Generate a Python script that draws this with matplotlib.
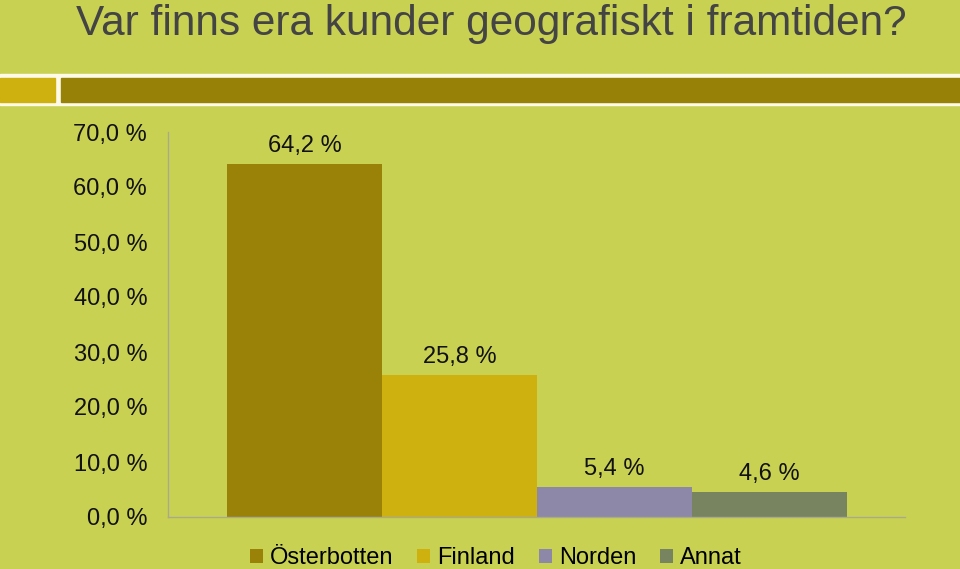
import matplotlib.pyplot as plt
from matplotlib.patches import Rectangle

plt.rcParams['font.family'] = ['Liberation Sans', 'DejaVu Sans']

# Data
categories = ["Österbotten", "Finland", "Norden", "Annat"]
values = [64.2, 25.8, 5.4, 4.6]
colors = ["#9A8208", "#CEB00E", "#8D88A7", "#788460"]
yticks = [0, 10, 20, 30, 40, 50, 60, 70]

bg = "#C9D153"

fig = plt.figure(figsize=(9.6, 5.69), dpi=100, facecolor=bg)

# header bar
W, H = 960, 569
def frect(x0, y0, x1, y1, c):
    fig.patches.append(Rectangle((x0 / W, 1 - y1 / H), (x1 - x0) / W, (y1 - y0) / H,
                                 transform=fig.transFigure, color=c, zorder=0))
frect(0, 74, 960, 105, "#FDFBE8")
frect(0, 78, 55, 102, "#CEB00E")
frect(61, 78, 960, 102, "#978106")

fig.text(76 / W, 1 - 35 / H, "Var finns era kunder geografiskt i framtiden?",
         fontsize=30.5, color="#444444", ha="left", va="baseline")

ax = fig.add_axes([168 / W, 1 - 517 / H, (905 - 168) / W, (517 - 132) / H])
ax.set_facecolor(bg)

x = list(range(len(values)))
bars = ax.bar(x, values, width=1.0, color=colors, label=categories)
for xi, v in zip(x, values):
    ax.text(xi, v + 3.3, f"{v:.1f} %".replace(".", ","), ha="center", va="center",
            fontsize=17, color="#111111")

ax.set_xlim(-0.5 - 59 / 155, 3.5 + 58 / 155)
ax.set_ylim(0, 70)
ax.set_yticks(yticks)
ax.set_yticklabels([f"{t:.1f} %".replace(".", ",") for t in yticks], fontsize=17, color="#111111")
ax.tick_params(axis="y", length=0, pad=15)
ax.set_xticks([])
for s in ["top", "right"]:
    ax.spines[s].set_visible(False)
for s in ["left", "bottom"]:
    ax.spines[s].set_color("#A8AA88")
    ax.spines[s].set_linewidth(1)

fig.legend(bars, categories, loc="center", bbox_to_anchor=(496 / W, 11 / H), ncol=4,
           frameon=False, fontsize=17, handlelength=0.55, handleheight=0.55,
           handletextpad=0.3, columnspacing=1.0, borderpad=0)

fig.savefig("out.png", dpi=100, facecolor=bg)
